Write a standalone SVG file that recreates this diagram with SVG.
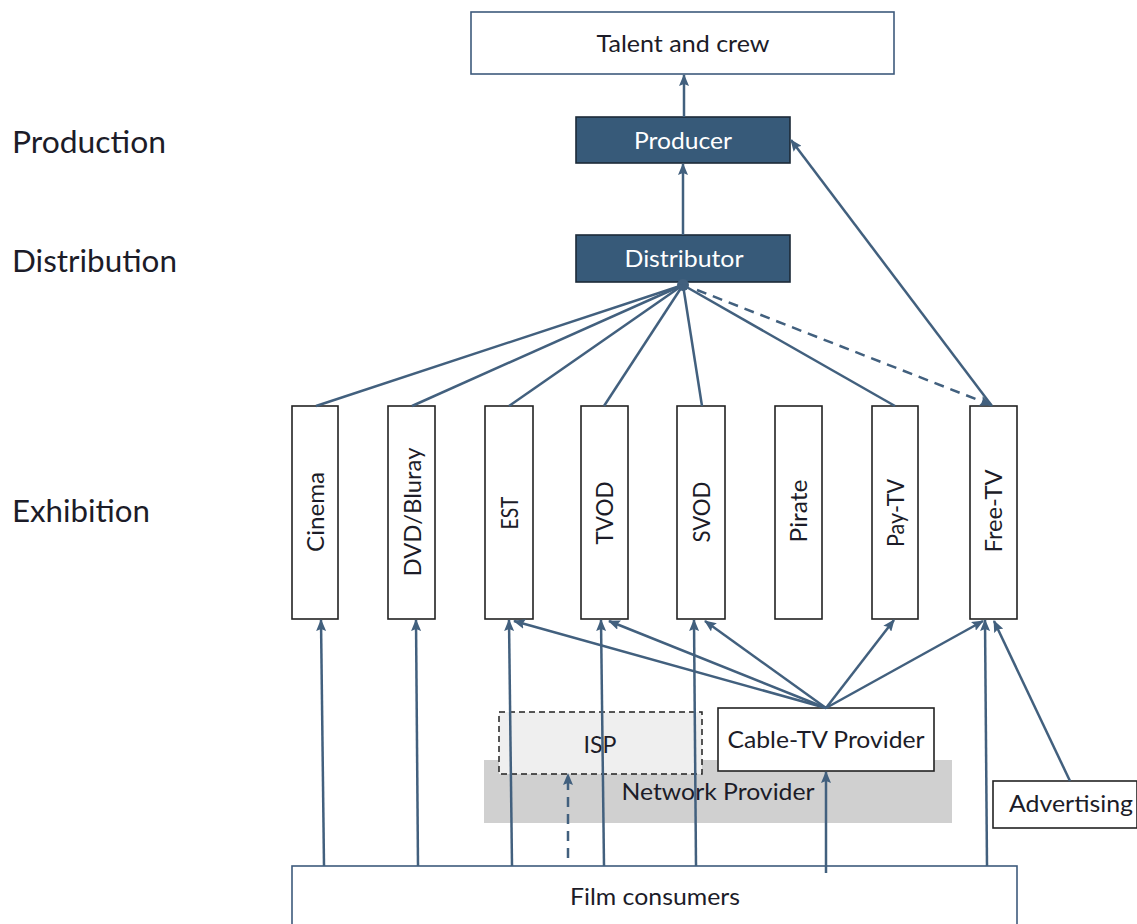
<svg xmlns="http://www.w3.org/2000/svg" width="1137" height="924" viewBox="0 0 1137 924">
<style>
  .lbl{font-family:Lato,"Open Sans","Liberation Sans",sans-serif;fill:#1c1c28;}
  .side{font-size:31px;}
  .box{font-size:24px;}
  .wt{fill:#ffffff;}
  .ex{fill:#ffffff;stroke:#222222;stroke-width:1.6;}
  .dark{fill:#375a79;stroke:#1c2a38;stroke-width:1.6;}
  .blue{fill:#ffffff;stroke:#3e5a7c;stroke-width:1.6;}
  .ln{fill:none;stroke:#42607e;stroke-width:2.5;}
  .arr{marker-end:url(#ah);}
  .dash{stroke-dasharray:10 7;}
</style>
<defs>
  <marker id="ah" markerUnits="userSpaceOnUse" markerWidth="12" markerHeight="10" refX="11" refY="5" orient="auto">
    <path d="M0,0 L12,5 L0,10 L2,5 z" fill="#42607e"/>
  </marker>
</defs>
<rect width="1137" height="924" fill="#ffffff"/>

<g id="stage-labels">
  <text class="lbl side" x="12" y="153" textLength="154" lengthAdjust="spacingAndGlyphs">Production</text>
  <text class="lbl side" x="12" y="272" textLength="165" lengthAdjust="spacingAndGlyphs">Distribution</text>
  <text class="lbl side" x="12" y="522" textLength="138" lengthAdjust="spacingAndGlyphs">Exhibition</text>
</g>

<g id="network-provider">
  <rect x="484" y="760" width="468" height="63" fill="#d0d0d0"/>
  <text class="lbl box" x="718" y="800" text-anchor="middle" textLength="193" lengthAdjust="spacingAndGlyphs">Network Provider</text>
</g>
<g id="isp">
  <rect x="499" y="712" width="203" height="62" fill="#efefef" stroke="#222222" stroke-width="1.5" stroke-dasharray="6 4"/>
  <text class="lbl box" x="600" y="753" text-anchor="middle" textLength="33" lengthAdjust="spacingAndGlyphs">ISP</text>
</g>
<g id="cable-tv">
  <rect class="ex" x="718" y="708" width="216" height="63"/>
  <text class="lbl box" x="826" y="748" text-anchor="middle" textLength="197" lengthAdjust="spacingAndGlyphs">Cable-TV Provider</text>
</g>

<g id="talent">
  <rect class="blue" x="471" y="12" width="423" height="62"/>
  <text class="lbl box" x="683" y="52" text-anchor="middle" textLength="173" lengthAdjust="spacingAndGlyphs">Talent and crew</text>
</g>
<g id="producer">
  <rect class="dark" x="576" y="117" width="214" height="46"/>
  <text class="lbl box wt" x="683" y="149" text-anchor="middle" textLength="98" lengthAdjust="spacingAndGlyphs">Producer</text>
</g>
<g id="distributor">
  <rect class="dark" x="576" y="235" width="214" height="47"/>
  <text class="lbl box wt" x="684" y="267" text-anchor="middle" textLength="119" lengthAdjust="spacingAndGlyphs">Distributor</text>
</g>

<g id="cinema">
  <rect class="ex" x="292" y="406" width="46" height="213"/>
  <text class="lbl box" transform="translate(315,512) rotate(-90)" x="0" y="9" text-anchor="middle" textLength="80" lengthAdjust="spacingAndGlyphs">Cinema</text>
</g>
<g id="dvd">
  <rect class="ex" x="388" y="406" width="47" height="213"/>
  <text class="lbl box" transform="translate(412,512) rotate(-90)" x="0" y="9" text-anchor="middle" textLength="129" lengthAdjust="spacingAndGlyphs">DVD/Bluray</text>
</g>
<g id="est">
  <rect class="ex" x="485" y="406" width="48" height="213"/>
  <text class="lbl box" transform="translate(509,513) rotate(-90)" x="0" y="9" text-anchor="middle" textLength="33" lengthAdjust="spacingAndGlyphs">EST</text>
</g>
<g id="tvod">
  <rect class="ex" x="581" y="406" width="47" height="213"/>
  <text class="lbl box" transform="translate(604,513) rotate(-90)" x="0" y="9" text-anchor="middle" textLength="63" lengthAdjust="spacingAndGlyphs">TVOD</text>
</g>
<g id="svod">
  <rect class="ex" x="677" y="406" width="48" height="213"/>
  <text class="lbl box" transform="translate(701,512) rotate(-90)" x="0" y="9" text-anchor="middle" textLength="61" lengthAdjust="spacingAndGlyphs">SVOD</text>
</g>
<g id="pirate">
  <rect class="ex" x="775" y="406" width="47" height="213"/>
  <text class="lbl box" transform="translate(798,511) rotate(-90)" x="0" y="9" text-anchor="middle" textLength="63" lengthAdjust="spacingAndGlyphs">Pirate</text>
</g>
<g id="paytv">
  <rect class="ex" x="872" y="406" width="46" height="213"/>
  <text class="lbl box" transform="translate(895,513) rotate(-90)" x="0" y="9" text-anchor="middle" textLength="68" lengthAdjust="spacingAndGlyphs">Pay-TV</text>
</g>
<g id="freetv">
  <rect class="ex" x="970" y="406" width="47" height="213"/>
  <text class="lbl box" transform="translate(993,511) rotate(-90)" x="0" y="9" text-anchor="middle" textLength="83" lengthAdjust="spacingAndGlyphs">Free-TV</text>
</g>

<g id="advertising">
  <rect class="ex" x="993" y="781" width="144" height="47"/>
  <text class="lbl box" x="1009" y="812" textLength="124" lengthAdjust="spacingAndGlyphs">Advertising</text>
</g>
<g id="film-consumers">
  <rect class="blue" x="292" y="866" width="725" height="70"/>
  <text class="lbl box" x="655" y="905" text-anchor="middle" textLength="170" lengthAdjust="spacingAndGlyphs">Film consumers</text>
</g>

<g id="connectors">
  <line class="ln arr" x1="684" y1="117" x2="684" y2="75"/>
  <line class="ln arr" x1="683" y1="235" x2="683" y2="164"/>
  <line class="ln arr" x1="992" y1="406" x2="791" y2="140"/>
  <circle cx="683" cy="285" r="6" fill="#42607e"/>
  <line class="ln" x1="683" y1="285" x2="316" y2="406"/>
  <line class="ln" x1="683" y1="285" x2="412" y2="406"/>
  <line class="ln" x1="683" y1="285" x2="509" y2="406"/>
  <line class="ln" x1="683" y1="285" x2="604" y2="406"/>
  <line class="ln" x1="683" y1="285" x2="702" y2="406"/>
  <line class="ln" x1="683" y1="285" x2="895" y2="406"/>
  <line class="ln arr dash" x1="697" y1="290" x2="991" y2="405"/>
  <line class="ln arr" x1="324" y1="866" x2="321" y2="620"/>
  <line class="ln arr" x1="418" y1="866" x2="416" y2="620"/>
  <line class="ln arr" x1="512" y1="866" x2="509" y2="620"/>
  <line class="ln arr" x1="604" y1="866" x2="601" y2="620"/>
  <line class="ln arr" x1="696" y1="866" x2="694" y2="620"/>
  <line class="ln arr" x1="987" y1="866" x2="985" y2="620"/>
  <line class="ln arr dash" x1="568" y1="858" x2="568" y2="774"/>
  <line class="ln arr" x1="826" y1="873" x2="826" y2="772"/>
  <line class="ln arr" x1="826" y1="708" x2="514" y2="621"/>
  <line class="ln arr" x1="826" y1="708" x2="609" y2="621"/>
  <line class="ln arr" x1="826" y1="708" x2="705" y2="621"/>
  <line class="ln arr" x1="826" y1="708" x2="894" y2="620"/>
  <line class="ln arr" x1="826" y1="708" x2="983" y2="621"/>
  <line class="ln arr" x1="1070" y1="781" x2="994" y2="621"/>
</g>
</svg>
